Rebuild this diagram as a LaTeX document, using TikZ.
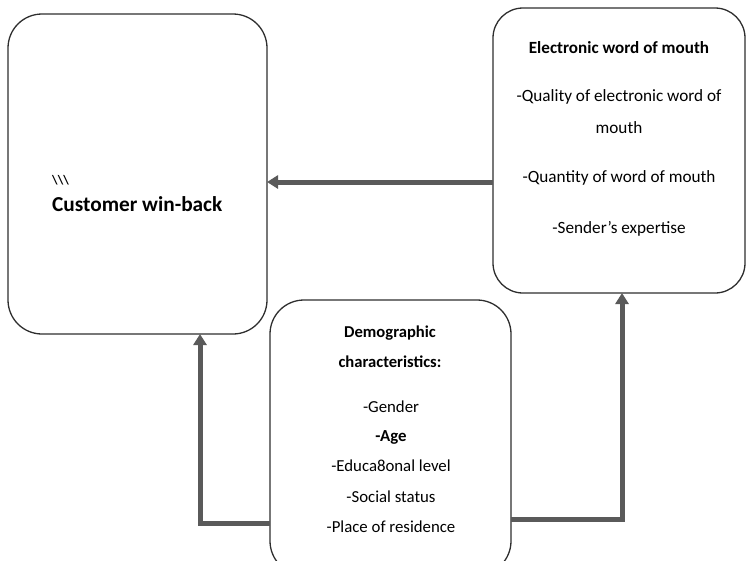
\documentclass[tikz,border=0pt]{standalone}
\usepackage{fontspec}
\setmainfont{Carlito}
\usetikzlibrary{arrows.meta}
\definecolor{linegray}{HTML}{2E2E2E}
\definecolor{arrgray}{HTML}{5A5A5A}
\begin{document}
\begin{tikzpicture}[x=1pt,y=-1pt,
  box/.style={draw=linegray,line width=1.3pt,rounded corners=34pt,inner sep=0pt,outer sep=0pt,fill=none},
  arr/.style={draw=arrgray,line width=5pt,-{Triangle[width=13pt,length=11pt]}},
  hd/.style={font=\fontsize{17.1}{20}\selectfont\bfseries,inner sep=0pt},
  tx/.style={font=\fontsize{17.2}{20}\selectfont,inner sep=0pt},
  dhd/.style={font=\fontsize{16.6}{19}\selectfont\bfseries,inner sep=0pt},
  dtx/.style={font=\fontsize{16.8}{19}\selectfont,inner sep=0pt}]
\useasboundingbox (0,0) rectangle (747,560);
% boxes
\node[box,minimum width=259pt,minimum height=320pt] (cwb) at (137.5,174) {};
\node[box,rounded corners=30pt,minimum width=252pt,minimum height=285pt] (ewom) at (619,150.5) {};
\node[box,minimum width=241pt,minimum height=275pt] (demo) at (390.5,437.5) {};
% left box text
\node[anchor=west,inner sep=0pt,font=\fontsize{13}{15}\selectfont\bfseries] (mark) at (52,180) {\textbackslash\textbackslash\textbackslash};
\node[anchor=west,inner sep=0pt,font=\fontsize{21.3}{25}\selectfont\bfseries] (cwbt) at (52,204) {Customer win-back};
% right box text
\node[hd] (e1) at (619,48) {Electronic word of mouth};
\node[tx] (e2) at (619,97) {-Quality of electronic word of};
\node[tx] (e3) at (619,128) {mouth};
\node[tx] (e4) at (619,178) {-Quantity of word of mouth};
\node[tx] (e5) at (619,229) {-Sender's expertise};
% bottom box text
\node[dhd] (d1) at (390,333) {Demographic};
\node[dhd] (d2) at (390,362) {characteristics:};
\node[dtx] (d3) at (391,407) {-Gender};
\node[dtx,font=\fontsize{16.8}{19}\selectfont\bfseries] (d4) at (391,437) {-Age};
\node[dtx] (d5) at (391,466) {-Educa8onal level};
\node[dtx] (d6) at (391,497) {-Social status};
\node[dtx] (d7) at (391,527) {-Place of residence};
% connector helper coordinates
\coordinate (h1) at (0,182);
\coordinate (h2) at (200,523);
\coordinate (h3) at (622,519);
% connectors
\draw[arr] (ewom.west |- h1) -- (cwb.east |- h1);
\draw[arr] (demo.west |- h2) -- (h2) -- (cwb.south -| h2);
\draw[arr] (demo.east |- h3) -- (h3) -- (ewom.south -| h3);
\end{tikzpicture}
\end{document}
